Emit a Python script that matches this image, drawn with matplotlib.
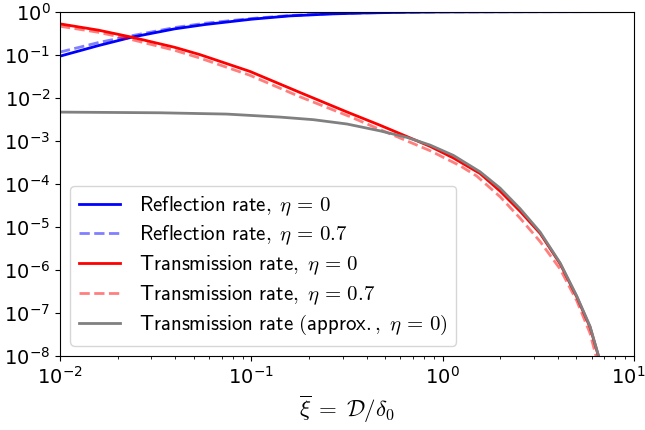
import numpy as np
import matplotlib
matplotlib.use("Agg")
import matplotlib.pyplot as plt
import matplotlib.transforms as mtransforms

plt.rcParams['mathtext.fontset'] = 'cm'
plt.rcParams['font.size'] = 15

# values, as log10 exponents
refl_x = [-2, -1.8, -1.625, -1.4, -1.242, -1.0, -0.8, -0.589, -0.414, -0.205, 0.0, 0.5, 1.0]
refl_eta0 = [-1.035, -0.79, -0.594, -0.40, -0.30, -0.177, -0.10, -0.055, -0.032, -0.016, -0.007, -0.002, 0.0]
refl_eta07 = [-0.94, -0.72, -0.56, -0.37, -0.27, -0.16, -0.09, -0.05, -0.03, -0.015, -0.006, -0.002, 0.0]

trans_x = [-2, -1.8, -1.625, -1.4, -1.268, -1.007, -0.745, -0.501, -0.327, -0.188, -0.066,
           0.056, 0.195, 0.30, 0.405, 0.509, 0.614, 0.701, 0.77, 0.814, 0.83]
trans_eta0 = [-0.285, -0.43, -0.594, -0.83, -1.00, -1.39, -1.88, -2.33, -2.64, -2.90, -3.13,
              -3.40, -3.76, -4.17, -4.64, -5.15, -5.86, -6.63, -7.33, -8.0, -8.3]

trans07_x = [-2, -1.8, -1.625, -1.4, -1.268, -1.007, -0.745, -0.484, -0.327, -0.066,
             0.091, 0.178, 0.30, 0.405, 0.509, 0.614, 0.701, 0.77, 0.81]
trans_eta07 = [-0.34, -0.48, -0.65, -0.90, -1.08, -1.48, -1.98, -2.44, -2.74, -3.23,
               -3.58, -3.82, -4.30, -4.80, -5.34, -5.98, -6.72, -7.47, -8.15]

approx_x = [-2, -1.477, -1.129, -0.850, -0.676, -0.501, -0.327, -0.188, -0.066, 0.056, 0.195,
            0.30, 0.405, 0.509, 0.614, 0.701, 0.77, 0.814, 0.83]
approx_eta0 = [-2.334, -2.35, -2.38, -2.45, -2.51, -2.61, -2.77, -2.92, -3.10, -3.34, -3.72,
               -4.10, -4.58, -5.12, -5.84, -6.61, -7.31, -7.99, -8.3]

p = lambda a: np.power(10.0, a)

fig = plt.figure(figsize=(6.45, 4.3), dpi=100)
ax = fig.add_axes([0.093, 0.172, 0.890, 0.801])

ax.plot(p(refl_x), p(refl_eta0), color='blue', lw=2,
        label=r'$\mathsf{Reflection\ rate,}\;\eta\,=\,0$')
ax.plot(p(refl_x), p(refl_eta07), color='blue', alpha=0.5, lw=2, ls='--',
        label=r'$\mathsf{Reflection\ rate,}\;\eta\,=\,0.7$')
ax.plot(p(trans_x), p(trans_eta0), color='red', lw=2,
        label=r'$\mathsf{Transmission\ rate,}\;\eta\,=\,0$')
ax.plot(p(trans07_x), p(trans_eta07), color='red', alpha=0.5, lw=2, ls='--',
        label=r'$\mathsf{Transmission\ rate,}\;\eta\,=\,0.7$')
ax.plot(p(approx_x), p(approx_eta0), color='gray', lw=2,
        label=r'$\mathsf{Transmission\ rate\ (approx.,}\;\eta\,=\,0\mathsf{)}$')

ax.set_xscale('log')
ax.set_yscale('log')
ax.set_xlim(1e-2, 1e1)
ax.set_ylim(1e-8, 1e0)
ax.set_xticks([1e-2, 1e-1, 1e0, 1e1])
ax.set_yticks([10.0**k for k in range(-8, 1)])
ax.tick_params(labelsize=14)
ax.set_xlabel(r'$\overline{\xi}\;=\;\mathcal{D}/\delta_0$', fontsize=16.5)
ax.legend(loc='lower left', fontsize=15, labelspacing=0.3, handletextpad=0.9)

# last x tick label sits at the figure edge, nudge it in a little
last = ax.get_xticklabels()[-1]
last.set_transform(last.get_transform() + mtransforms.ScaledTranslation(-6 / 100, 0, fig.dpi_scale_trans))

fig.savefig('out.png', dpi=100)
